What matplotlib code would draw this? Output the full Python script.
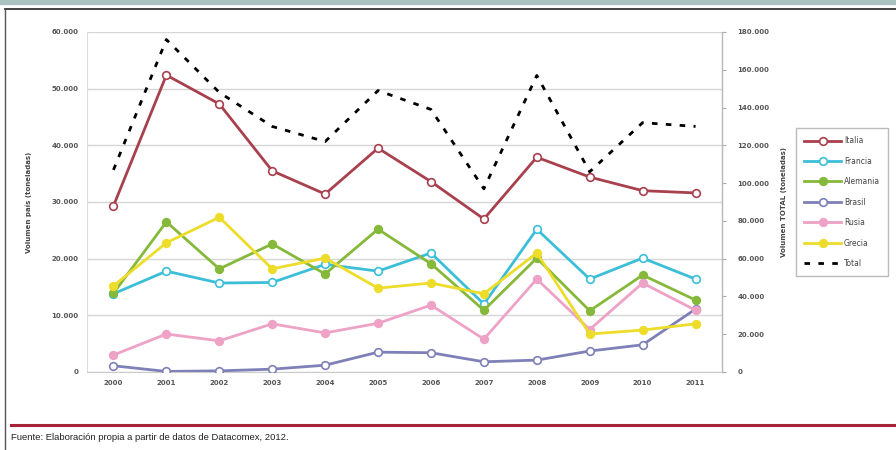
import matplotlib
matplotlib.use("Agg")
import matplotlib.pyplot as plt
from matplotlib.lines import Line2D
from matplotlib.patches import Rectangle
from matplotlib.ticker import FuncFormatter

years = [2000, 2001, 2002, 2003, 2004, 2005, 2006, 2007, 2008, 2009, 2010, 2011]
italia = [29.3, 52.4, 47.3, 35.5, 31.4, 39.5, 33.6, 27.0, 37.9, 34.4, 32.0, 31.6]
francia = [13.8, 17.8, 15.7, 15.8, 19.0, 17.8, 21.0, 12.0, 25.2, 16.4, 20.1, 16.4]
alemania = [13.9, 26.5, 18.2, 22.6, 17.3, 25.2, 19.1, 10.9, 20.1, 10.8, 17.1, 12.7]
brasil = [1.1, 0.1, 0.2, 0.5, 1.2, 3.5, 3.4, 1.8, 2.1, 3.7, 4.8, 11.1]
rusia = [3.0, 6.7, 5.5, 8.5, 6.9, 8.6, 11.8, 5.8, 16.4, 7.5, 15.7, 10.9]
grecia = [15.2, 22.8, 27.3, 18.2, 20.1, 14.8, 15.7, 13.8, 21.0, 6.7, 7.4, 8.5]
total = [107, 176, 148, 130, 122, 149, 139, 97, 157, 106, 132, 130]

series = [
    ("Italia", italia, "#A8404E", "white"),
    ("Francia", francia, "#3BBFD8", "white"),
    ("Alemania", alemania, "#86B83A", None),
    ("Brasil", brasil, "#7E80B8", "white"),
    ("Rusia", rusia, "#EDA2C6", None),
    ("Grecia", grecia, "#EDDD2A", None),
]

fig = plt.figure(figsize=(8.96, 4.5), dpi=100)
ax = fig.add_axes([87/896, 1-372/450, (722-87)/896, (372-32)/450])
ax2 = ax.twinx()

handles = []
for name, vals, col, face in series:
    mfc = face if face else col
    h, = ax.plot(years, [v*1000 for v in vals], color=col, lw=2.0, marker="o",
                 ms=5.5, mfc=mfc, mec=col, mew=1.2, label=name, zorder=3)
    handles.append(h)

ht, = ax2.plot(years, [v*1000 for v in total], color="black", lw=2.0,
               ls=(0, (2, 3)), label="Total")
handles.append(ht)

ax.set_xlim(1999.5, 2011.5)
ax.set_ylim(0, 60000)
ax2.set_ylim(0, 180000)
ax.set_xticks(years)
ax.set_yticks(range(0, 60001, 10000))
ax2.set_yticks(range(0, 180001, 20000))
fmt = FuncFormatter(lambda v, p: "0" if v == 0 else f"{int(v):,}".replace(",", "."))
ax.yaxis.set_major_formatter(fmt)
ax2.yaxis.set_major_formatter(fmt)

ax.tick_params(axis="both", labelsize=5, colors="#555555", length=0, pad=6)
ax2.tick_params(axis="y", labelsize=5, labelcolor="#555555", color="#aaaaaa", length=3, pad=8)
for lab in ax.get_xticklabels() + ax.get_yticklabels() + ax2.get_yticklabels():
    lab.set_fontweight("bold")

ax.grid(axis="y", color="#d6d6d6", lw=1.0)
ax.set_axisbelow(True)
ax.spines["top"].set_visible(False)
ax2.spines["top"].set_visible(False)
ax.spines["left"].set_color("#dddddd")
ax.spines["bottom"].set_color("#cccccc")
ax2.spines["left"].set_visible(False)
ax2.spines["bottom"].set_visible(False)
ax2.spines["right"].set_color("#bbbbbb")

ax.set_ylabel("Volumen país (toneladas)", fontsize=5, fontweight="bold", color="#444444", labelpad=14)
ax2.set_ylabel("Volumen TOTAL (toneladas)", fontsize=5, fontweight="bold", color="#444444", labelpad=8)

leg = fig.legend(handles=handles, loc="upper left", bbox_to_anchor=(792/896, 1-124/450),
                 fontsize=5.5, frameon=True, fancybox=False, edgecolor="#aaaaaa",
                 handlelength=4.8, labelspacing=1.5, borderpad=1.1, handletextpad=0.4)
for t in leg.get_texts():
    t.set_color("#444444")

# page frame decorations
fig.patches.append(Rectangle((0, 1-4/450), 1, 4/450, transform=fig.transFigure,
                             color="#A9C1BF", zorder=0))
fig.lines.append(Line2D([5/896, 1], [1-8.5/450]*2, transform=fig.transFigure, color="#333333", lw=1.3))
fig.lines.append(Line2D([5/896]*2, [0, 1-8.5/450], transform=fig.transFigure, color="#555555", lw=1.0))
fig.lines.append(Line2D([11/896, 1], [1-425/450]*2, transform=fig.transFigure, color="#A52238", lw=2.2))

fig.text(11/896, 1-437/450, "Fuente: Elaboración propia a partir de datos de Datacomex, 2012.",
         fontsize=6.8, family="Liberation Sans", color="#222222", va="center", ha="left")

fig.savefig("out.png", dpi=100)
